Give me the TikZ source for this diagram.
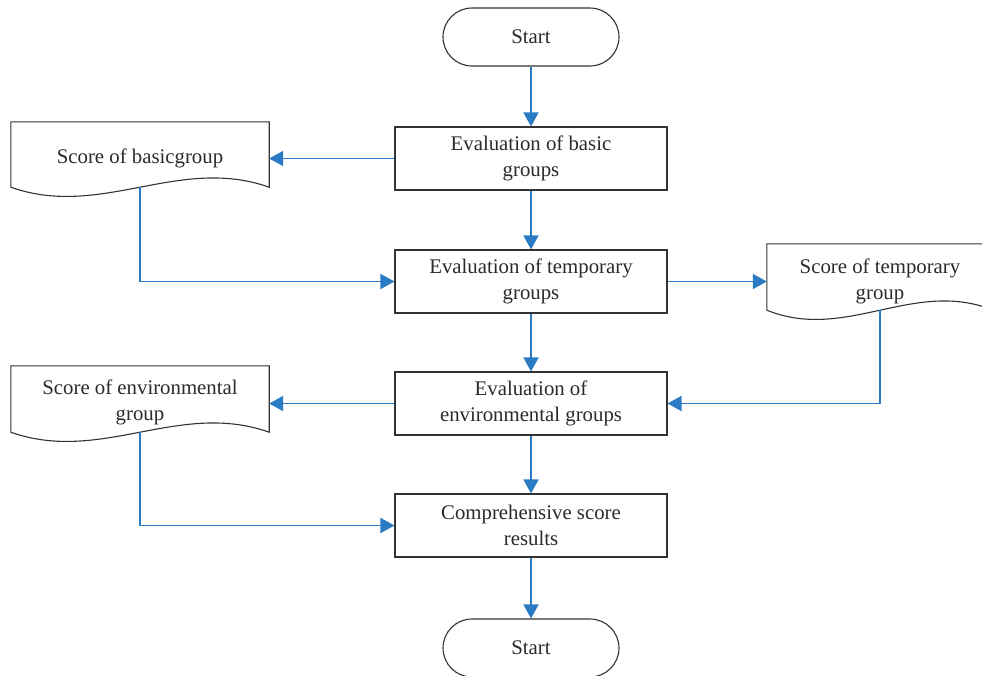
\documentclass[tikz,border=0pt]{standalone}
\usepackage{fontspec}
\setmainfont{Liberation Serif}
\usetikzlibrary{arrows.meta,calc}
\definecolor{flowblue}{HTML}{2A7AC4}
\definecolor{edgegray}{HTML}{333333}
\definecolor{txtgray}{HTML}{2B2B2B}
\begin{document}
\begin{tikzpicture}[x=1pt,y=-1pt,
  basefont/.style={font=\fontsize{20.8}{26}\selectfont, text=txtgray},
  procbox/.style={basefont, rectangle, draw=edgegray, line width=1.1pt, minimum width=272pt, minimum height=63pt, align=center, inner sep=0pt},
  termbox/.style={basefont, rectangle, rounded corners=29pt, draw=edgegray, line width=1.1pt, minimum width=176pt, minimum height=58pt, inner sep=0pt},
  docnode/.style={rectangle, inner sep=0pt},
  doctext/.style={basefont, align=center, inner sep=0pt},
  docline/.style={draw=edgegray, line width=1.1pt},
  flow/.style={draw=flowblue, line width=1.6pt, -{Triangle[length=14pt,width=15pt]}}]
\useasboundingbox (0,0) rectangle (982,675);
\fill[white] (0,0) rectangle (982,675);

\node[termbox] (start) at (531,37) {Start};
\node[procbox] (b1) at (531,158.5) {Evaluation of basic\\groups};
\node[procbox] (b2) at (531,281.5) {Evaluation of temporary\\groups};
\node[procbox] (b3) at (531,403.5) {Evaluation of\\environmental groups};
\node[procbox] (b4) at (531,525.5) {Comprehensive score\\results};
\node[termbox] (end) at (531,648) {Start};

\node[docnode, minimum width=258pt, minimum height=65pt] (d1) at (140,154.5) {};
\node[docnode, minimum width=226pt, minimum height=66pt] (d2) at (880,277) {};
\node[docnode, minimum width=258pt, minimum height=66pt] (d3) at (140,399) {};
\node[doctext] (d1t) at ($(d1.center)+(0,3.5)$) {Score of basicgroup};
\node[doctext] (d2t) at ($(d2.center)+(0,4)$) {Score of temporary\\group};
\node[doctext] (d3t) at ($(d3.center)+(0,3)$) {Score of environmental\\group};

\foreach \d in {d1,d2,d3}{
  \draw[docline] (\d.south west) -- (\d.north west) -- (\d.north east) -- (\d.south east)
    .. controls ($(\d.south east)!0.35!(\d.south west)+(0,-32)$) and ($(\d.south west)!0.35!(\d.south east)+(0,32)$) .. (\d.south west) -- cycle;
}

\draw[flow] (start) -- (b1);
\draw[flow] (b1.west) -- (b1.west -| d1.east);
\draw[flow] (b1) -- (b2);
\draw[flow] (d1.south) |- (b2.west);
\draw[flow] (b2.east) -- (b2.east -| d2.west);
\draw[flow] (b2) -- (b3);
\draw[flow] (d2.south) |- (b3.east);
\draw[flow] (b3.west) -- (b3.west -| d3.east);
\draw[flow] (b3) -- (b4);
\draw[flow] (d3.south) |- (b4.west);
\draw[flow] (b4) -- (end);
\end{tikzpicture}
\end{document}
